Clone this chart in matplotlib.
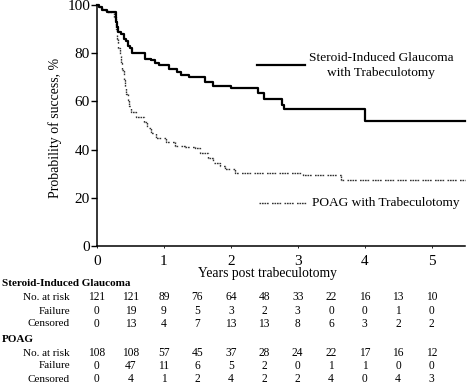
import matplotlib
matplotlib.use("Agg")
import matplotlib.pyplot as plt
import matplotlib.transforms as mtransforms

plt.rcParams['font.family'] = ['Liberation Serif', 'DejaVu Serif']

# Kaplan-Meier steps (years, % success)
steroid_t = [0, 0.03, 0.08, 0.15, 0.28, 0.30, 0.32, 0.36, 0.40, 0.44, 0.47, 0.50, 0.53,
             0.72, 0.80, 0.86, 0.92, 1.07, 1.20, 1.25, 1.37, 1.62, 1.73, 2.00, 2.41,
             2.49, 2.76, 2.80, 4.00, 5.5]
steroid_s = [100, 99, 98, 97, 93, 91, 89, 88, 86, 85, 83, 82, 80,
             77.5, 77, 76, 75, 73.5, 72, 71, 70, 68, 66.5, 65.5, 63.5,
             61, 58.5, 57, 52, 52]

poag_t = [0, 0.03, 0.08, 0.15, 0.26, 0.28, 0.30, 0.32, 0.34, 0.36, 0.38, 0.40, 0.42,
          0.44, 0.46, 0.48, 0.51, 0.58, 0.70, 0.75, 0.80, 0.88, 1.03, 1.17, 1.32,
          1.47, 1.54, 1.66, 1.74, 1.84, 1.92, 2.06, 3.08, 3.65, 5.5]
poag_s = [100, 99, 98, 97, 95, 90, 86, 82, 79, 76, 73, 69, 66,
          63, 60.5, 58, 55.5, 53.5, 51.5, 49, 47, 45, 43, 41.5, 41,
          40.5, 38.5, 36.5, 34.5, 33, 32, 30.2, 29.5, 27.4, 27.4]

# numbers-at-risk table
table_times = [0, 0.5, 1, 1.5, 2, 2.5, 3, 3.5, 4, 4.5, 5]
steroid_risk = [121, 121, 89, 76, 64, 48, 33, 22, 16, 13, 10]
steroid_fail = [0, 19, 9, 5, 3, 2, 3, 0, 0, 1, 0]
steroid_cens = [0, 13, 4, 7, 13, 13, 8, 6, 3, 2, 2]
poag_risk = [108, 108, 57, 45, 37, 28, 24, 22, 17, 16, 12]
poag_fail = [0, 47, 11, 6, 5, 2, 0, 1, 1, 0, 0]
poag_cens = [0, 4, 1, 2, 4, 2, 2, 4, 0, 4, 3]

W, H = 470, 384
fig = plt.figure(figsize=(W / 100, H / 100), dpi=100)
ax = fig.add_axes([97 / W, 1 - 246 / H, (465 - 97) / W, (246 - 5) / H])

dots = (0, (1.2, 0.6, 1.2, 0.6, 1.2, 0.6, 1.2, 2.4))
ax.step(poag_t, poag_s, where='post', color='#333333', lw=1.0, linestyle=dots, clip_on=False)
ax.step(steroid_t, steroid_s, where='post', color='black', lw=1.6, clip_on=False)

ax.set_xlim(0, 5.5)
ax.set_ylim(0, 100)
ax.set_xticks([0, 1, 2, 3, 4, 5])
ax.set_yticks([0, 20, 40, 60, 80, 100])
for s in ['top', 'right']:
    ax.spines[s].set_visible(False)
for s in ['left', 'bottom']:
    ax.spines[s].set_linewidth(1.1)
ax.tick_params(axis='y', length=4, width=1.0, pad=1, labelsize=11)
ax.tick_params(axis='x', length=1.5, width=0.6, pad=5, labelsize=11)
ax.set_ylabel("Probability of success, %", fontsize=10)
ax.yaxis.set_label_coords(-0.095, 0.49)

def px(x, y):
    return x / W, 1 - y / H

fig.text(*px(268, 274), "Years post trabeculotomy", fontsize=9.8, ha='center', va='center')

# legend drawn by hand
fig.add_artist(plt.Line2D([257 / W, 305 / W], [1 - 65 / H] * 2, color='black', lw=1.6))
fig.text(*px(381, 58), "Steroid-Induced Glaucoma", fontsize=9.6, ha='center', va='center')
fig.text(*px(381, 73), "with Trabeculotomy", fontsize=9.6, ha='center', va='center')
fig.add_artist(plt.Line2D([259 / W, 307 / W], [1 - 203 / H] * 2, color='#333333', lw=1.0,
                          linestyle=dots))
fig.text(*px(312, 203), "POAG with Trabeculotomy", fontsize=9.6, ha='left', va='center')

# risk table
trans = mtransforms.blended_transform_factory(ax.transData, fig.transFigure)
fig.text(*px(2, 283), "Steroid-Induced Glaucoma", fontsize=8, fontweight='bold', va='center')
fig.text(*px(2, 340), "POAG", fontsize=8, fontweight='bold', va='center')
rows = [("No. at risk", steroid_risk, 297), ("Failure", steroid_fail, 311),
        ("Censored", steroid_cens, 324), ("No. at risk", poag_risk, 353),
        ("Failure", poag_fail, 366), ("Censored", poag_cens, 379)]
for label, vals, y in rows:
    fig.text(*px(70, y), label, fontsize=8, ha='right', va='center')
    for t, v in zip(table_times, vals):
        fig.text(t, 1 - y / H, str(v), fontsize=8.3, ha='center', va='center', transform=trans)

fig.savefig("out.png", dpi=100)
